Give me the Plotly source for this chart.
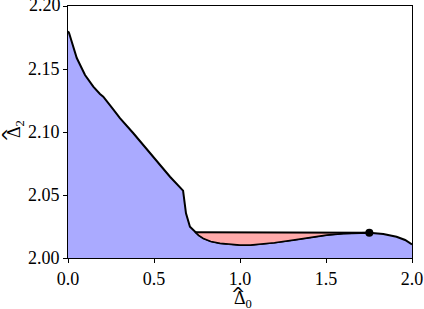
import plotly.graph_objects as go

# main boundary curve (upper part then lower branch of the dip)
curve_x = [0.0, 0.006, 0.012, 0.051, 0.099, 0.147, 0.186, 0.205, 0.263, 0.302, 0.380,
           0.496, 0.593, 0.669, 0.674, 0.686, 0.709, 0.738, 0.760, 0.787, 0.830, 0.884,
           0.940, 1.000, 1.060, 1.116, 1.200, 1.310, 1.400, 1.504, 1.600, 1.698, 1.752,
           1.833, 1.910, 1.960, 1.985, 2.000]
curve_y = [2.180, 2.1786, 2.1760, 2.1587, 2.1452, 2.1360, 2.1302, 2.1280, 2.1180, 2.1110, 2.0990,
           2.0804, 2.0645, 2.0535, 2.0487, 2.0355, 2.0248, 2.0209, 2.0180, 2.0156, 2.0132, 2.0117,
           2.0108, 2.0103, 2.0104, 2.0109, 2.0122, 2.0143, 2.0162, 2.0183, 2.0194, 2.0200, 2.0201,
           2.0190, 2.0169, 2.0143, 2.0125, 2.0108]

# flat branch at the top of the dip
flat_x = [0.738, 1.752]
flat_y = [2.0205, 2.0201]

# marked point
dot_x = [1.752]
dot_y = [2.0201]

x_ticks = [0, 0.5, 1.0, 1.5, 2.0]
x_labels = ["0.0", "0.5", "1.0", "1.5", "2.0"]
y_ticks = [2.00, 2.05, 2.10, 2.15, 2.20]
y_labels = ["2.00", "2.05", "2.10", "2.15", "2.20"]

BLUE = "#aaaaff"
RED = "#ffaaaa"

# red region: flat line then back along the lower branch
lo_idx = [i for i, v in enumerate(curve_x) if 0.738 <= v <= 1.752]
red_x = flat_x + [curve_x[i] for i in reversed(lo_idx)]
red_y = flat_y + [curve_y[i] for i in reversed(lo_idx)]

fig = go.Figure()
fig.add_trace(go.Scatter(x=curve_x, y=curve_y, fill="tozeroy", fillcolor=BLUE,
                         mode="lines", line=dict(color="black", width=2), hoverinfo="skip"))
fig.add_trace(go.Scatter(x=red_x, y=red_y, fill="toself", fillcolor=RED,
                         mode="none", hoverinfo="skip"))
fig.add_trace(go.Scatter(x=[curve_x[i] for i in lo_idx], y=[curve_y[i] for i in lo_idx],
                         mode="lines", line=dict(color="black", width=1.5), hoverinfo="skip"))
fig.add_trace(go.Scatter(x=flat_x, y=flat_y, mode="lines",
                         line=dict(color="black", width=2), hoverinfo="skip"))
fig.add_trace(go.Scatter(x=dot_x, y=dot_y, mode="markers",
                         marker=dict(color="black", size=8), hoverinfo="skip"))

font = dict(family="Liberation Serif", size=18, color="black")
hat_font = dict(family="DejaVu Sans", size=17, color="black")
axis = dict(showgrid=False, zeroline=False, showline=True, linecolor="black", linewidth=1,
            mirror=True, ticks="outside", ticklen=4, tickcolor="black", tickfont=font,
            automargin=False)

fig.update_layout(
    width=424, height=309,
    margin=dict(l=68, r=12, t=6, b=51),
    plot_bgcolor="white", paper_bgcolor="white",
    showlegend=False,
    font=font,
    xaxis=dict(axis, range=[0, 2], tickvals=x_ticks, ticktext=x_labels),
    # plotly drops the top label (it pokes above the page), so it is added below as text
    yaxis=dict(axis, range=[2.0, 2.2], tickvals=y_ticks, ticktext=y_labels[:-1] + [""]),
)

fig.add_annotation(text=y_labels[-1], xref="paper", yref="y", x=0, y=y_ticks[-1],
                   xanchor="right", yanchor="middle", xshift=-5, yshift=1,
                   showarrow=False, font=font)

# axis titles: Delta with subscript plus a separate wide hat
fig.add_annotation(text="Δ<sub>0</sub>", xref="paper", yref="paper", x=0.5, y=0,
                   xanchor="center", yanchor="middle", xshift=3, yshift=-41,
                   showarrow=False, font=font)
fig.add_annotation(text="^", xref="paper", yref="paper", x=0.5, y=0,
                   xanchor="center", yanchor="middle", xshift=-2, yshift=-36,
                   showarrow=False, font=hat_font)
fig.add_annotation(text="Δ<sub>2</sub>", xref="paper", yref="paper", x=0, y=0.5,
                   xanchor="center", yanchor="middle", xshift=-53, yshift=3,
                   textangle=-90, showarrow=False, font=font)
fig.add_annotation(text="^", xref="paper", yref="paper", x=0, y=0.5,
                   xanchor="center", yanchor="middle", xshift=-59, yshift=-3,
                   textangle=-90, showarrow=False, font=hat_font)

# page has a default 8px body margin; drop it so the figure sits at the corner
fig.write_html("out.html", config={"displayModeBar": False},
               post_script="document.body.style.margin='0';")
